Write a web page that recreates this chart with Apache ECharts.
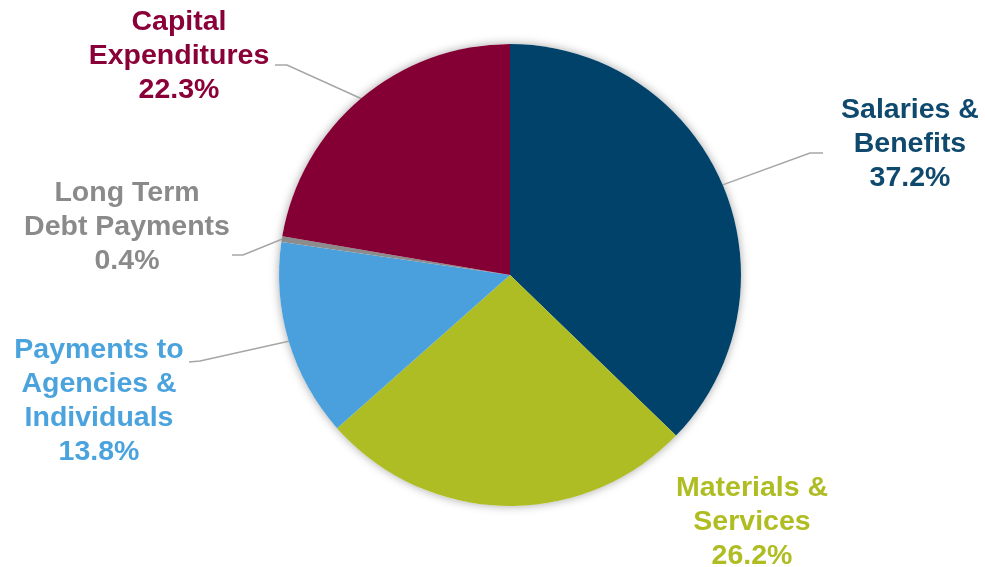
<!DOCTYPE html>
<html>
<head>
<meta charset="utf-8">
<script src="https://cdn.jsdelivr.net/npm/echarts@6/dist/echarts.min.js"></script>
<style>
html,body{margin:0;padding:0;background:#fff;}
#chart{width:985px;height:567px;}
</style>
</head>
<body>
<div id="chart"></div>
<script>
// ---- Data ----
var categories = ['Salaries &\nBenefits', 'Materials &\nServices', 'Payments to\nAgencies &\nIndividuals', 'Long Term\nDebt Payments', 'Capital\nExpenditures'];
var shares = [37.2, 26.2, 13.8, 0.4, 22.3];
var sliceColors = ['#00426A', '#AEBD24', '#4AA0DC', '#8C8C8C', '#840034'];
var labelColors = ['#0F4A6E', '#AFBD22', '#4BA3DD', '#8A8A8A', '#8A0038'];

// ---- Label placement (layout only) ----
var labelPos = [[910, 144], [752, 522], [99, 401], [127, 227], [179, 56]];
// leader-line bend and end offsets relative to label centre
var lineBend = [[-100, 9], null, [101, -40], [116, 28], [108, 9]];
var lineEnd = [[-87, 9], null, [90, -39], [105, 28], [96, 9]];

var chart = echarts.init(document.getElementById('chart'), null, {renderer: 'canvas'});

var data = categories.map(function (c, i) {
  return {
    name: c,
    value: shares[i],
    itemStyle: {color: sliceColors[i]},
    label: {color: labelColors[i]},
    labelLine: {show: lineEnd[i] !== null}
  };
});

chart.setOption({
  animation: false,
  backgroundColor: '#fff',
  series: [
    {
      type: 'pie',
      silent: true,
      center: [510, 275],
      radius: 231,
      z: 1,
      label: {show: false},
      labelLine: {show: false},
      itemStyle: {color: '#fff', shadowBlur: 10, shadowColor: 'rgba(0,0,0,0.35)'},
      data: [{value: 1, name: ''}]
    },
    {
      type: 'pie',
      center: [510, 275],
      radius: 231,
      startAngle: 90,
      clockwise: true,
      z: 2,
      avoidLabelOverlap: false,
      itemStyle: {borderWidth: 0},
      label: {
        show: true,
        position: 'outside',
        formatter: function (p) { return p.name + '\n' + p.value.toFixed(1) + '%'; },
        fontFamily: '"Liberation Sans", Arial, sans-serif',
        fontWeight: 'bold',
        fontSize: 28.5,
        lineHeight: 34,
        align: 'center'
      },
      labelLine: {
        show: true,
        length: 20,
        length2: 10,
        lineStyle: {color: '#A6A6A6', width: 1.5}
      },
      labelLayout: function (params) {
        var i = params.dataIndex;
        var pos = labelPos[i];
        var out = {x: pos[0], y: pos[1], align: 'center', verticalAlign: 'middle'};
        if (lineEnd[i] && params.labelLinePoints) {
          var a = params.labelLinePoints[0];
          out.labelLinePoints = [
            [a[0], a[1]],
            [pos[0] + lineBend[i][0], pos[1] + lineBend[i][1]],
            [pos[0] + lineEnd[i][0], pos[1] + lineEnd[i][1]]
          ];
        }
        return out;
      },
      data: data
    }
  ]
});
</script>
</body>
</html>
